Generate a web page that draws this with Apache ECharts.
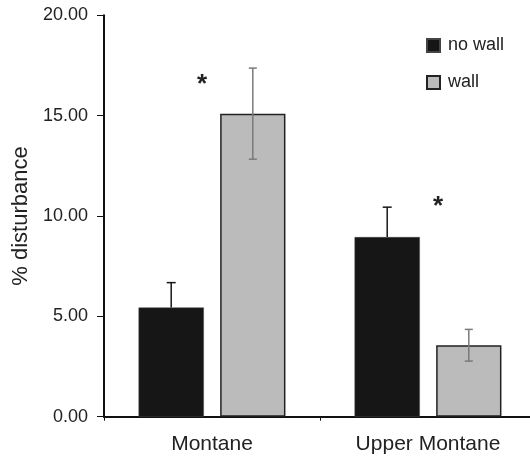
<!DOCTYPE html>
<html><head><meta charset="utf-8">
<script src="https://cdn.jsdelivr.net/npm/echarts@6/dist/echarts.min.js"></script>
<style>html,body{margin:0;padding:0;background:#fff}#c{width:530px;height:456px}</style>
</head><body><div id="c"></div>
<script>
const categories = ['Montane', 'Upper Montane'];
const noWall = [5.44, 8.95];
const noWallErr = [1.24, 1.49];
const wall = [15.1, 3.56];
const wallErr = [2.27, 0.79];
const yTicks = [0, 5, 10, 15, 20];
const stars = [[0, 16.55, -10], [1, 10.45, 10]];

const FONT = '"Liberation Sans", Arial, sans-serif';
const CAT_GAP = 0.32, BAR_GAP = 0.25, NBARS = 2;

function errSeries(name, vals, errs, idx, color, both, capW) {
  return {
    type: 'custom', name: name + ' err', silent: true, z: 5,
    data: vals.map((v, i) => [i, v, errs[i]]),
    renderItem: function (params, api) {
      const i = api.value(0), v = api.value(1), e = api.value(2);
      const band = api.size([1, 0])[0];
      const avail = band * (1 - CAT_GAP);
      const bw = avail / (NBARS + (NBARS - 1) * BAR_GAP);
      const c = api.coord([i, v]);
      const x = c[0] - avail / 2 + idx * bw * (1 + BAR_GAP) + bw / 2;
      const top = api.coord([i, v + e])[1];
      const bot = both ? api.coord([i, v - e])[1] : c[1];
      const st = { stroke: color, lineWidth: 1.5 };
      const ch = [
        { type: 'line', shape: { x1: x, y1: top, x2: x, y2: bot }, style: st },
        { type: 'line', shape: { x1: x - capW / 2, y1: top, x2: x + capW / 2, y2: top }, style: st }
      ];
      if (both) ch.push({ type: 'line', shape: { x1: x - capW / 2, y1: bot, x2: x + capW / 2, y2: bot }, style: st });
      return { type: 'group', children: ch };
    }
  };
}

const chart = echarts.init(document.getElementById('c'), null, { renderer: 'canvas' });
chart.setOption({
  animation: false,
  textStyle: { fontFamily: FONT },
  grid: { left: 104, top: 15.3, width: 432, height: 401.4, containLabel: false, outerBoundsMode: 'none' },
  legend: {
    orient: 'vertical', left: 426, top: 36.5, itemWidth: 13, itemHeight: 13, itemGap: 19,
    icon: 'rect', data: ['no wall', 'wall'],
    textStyle: { fontFamily: FONT, fontSize: 18, color: '#222', padding: [0, 0, 0, 3] },
    padding: 0
  },
  xAxis: {
    type: 'category', data: categories,
    axisLine: { lineStyle: { color: '#111', width: 2 } },
    axisTick: { show: true, length: 4, lineStyle: { color: '#111', width: 1 } },
    axisLabel: { fontSize: 21, color: '#222', margin: 17, fontFamily: FONT }
  },
  yAxis: {
    type: 'value', min: 0, max: 20, interval: 5,
    name: '% disturbance', nameLocation: 'middle', nameGap: 72, nameRotate: 90,
    nameTextStyle: { fontSize: 22, color: '#222', fontFamily: FONT },
    splitLine: { show: false },
    axisLine: { show: true, lineStyle: { color: '#111', width: 2 } },
    axisTick: { show: true, length: 7, lineStyle: { color: '#111', width: 1 } },
    axisLabel: { fontSize: 18, color: '#222', margin: 16, fontFamily: FONT,
      formatter: v => yTicks.includes(v) ? v.toFixed(2) : '' }
  },
  series: [
    { type: 'bar', name: 'no wall', data: noWall, barGap: '25%', barCategoryGap: '32%',
      itemStyle: { color: '#161616', borderColor: '#444', borderWidth: 0.5 } },
    { type: 'bar', name: 'wall', data: wall, barGap: '25%', barCategoryGap: '32%',
      itemStyle: { color: '#bbbbbb', borderColor: '#222', borderWidth: 1.5 } },
    errSeries('no wall', noWall, noWallErr, 0, '#161616', false, 9),
    errSeries('wall', wall, wallErr, 1, '#7a7a7a', true, 8)
  ]
});

const g = stars.map(s => {
  const p = chart.convertToPixel({ gridIndex: 0 }, [s[0], s[1]]);
  return { type: 'text', x: p[0] + s[2], y: p[1], z: 10,
    style: { text: '*', fontSize: 26, fontWeight: 'bold', fill: '#222', fontFamily: FONT, align: 'center', verticalAlign: 'middle' } };
});
chart.setOption({ graphic: g });
</script></body></html>
